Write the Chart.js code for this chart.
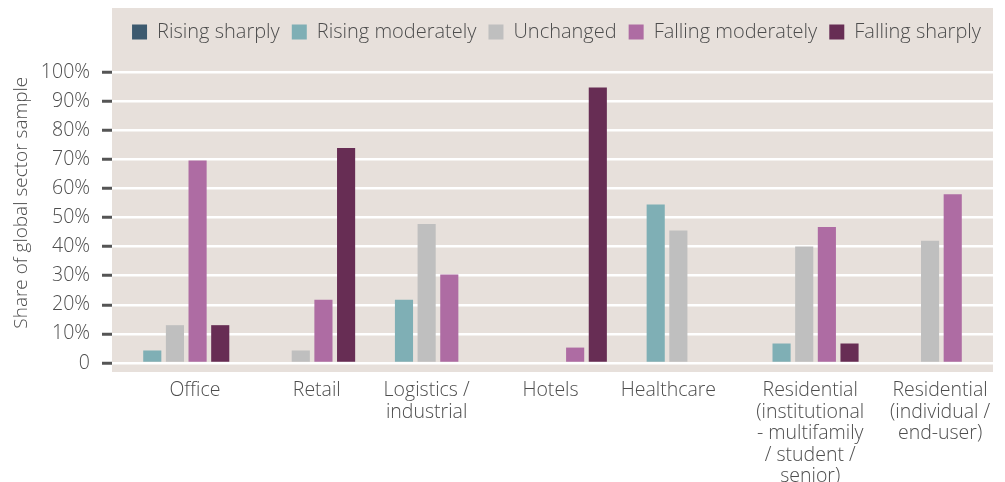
<!DOCTYPE html>
<html>
<head>
<meta charset="utf-8">
<script src="https://cdn.jsdelivr.net/npm/chart.js@4/dist/chart.umd.min.js"></script>
<style>
  html, body { margin: 0; padding: 0; background: #fff; }
  #wrap { width: 1005px; height: 482px; position: relative; }
</style>
</head>
<body>
<div id="wrap"><canvas id="sectorChart"></canvas></div>
<script>
'use strict';

// ---- data (share of global sector sample, %) ----
const categories = [
  'Office',
  'Retail',
  ['Logistics /', 'industrial'],
  'Hotels',
  'Healthcare',
  ['Residential', '(institutional', '- multifamily', '/ student /', 'senior)'],
  ['Residential', '(individual /', 'end-user)']
];
const seriesNames = ['Rising sharply', 'Rising moderately', 'Unchanged', 'Falling moderately', 'Falling sharply'];
const risingSharply     = [0, 0, 0, 0, 0, 0, 0];
const risingModerately  = [4.3, 0, 21.7, 0, 54.5, 6.7, 0];
const unchanged         = [13, 4.3, 47.8, 0, 45.5, 40, 42];
const fallingModerately = [69.6, 21.7, 30.4, 5.3, 0, 46.7, 58];
const fallingSharply    = [13, 73.9, 0, 94.7, 0, 6.7, 0];
const yTicks = [0, 10, 20, 30, 40, 50, 60, 70, 80, 90, 100];

const COLORS = ['#3d5a6f', '#7fafb5', '#bfbfbf', '#ae6ca3', '#672d54'];
const PANEL = '#e7e0db';
const TEXT = '#4d4d4d';
const FONT = "'Open Sans', 'Liberation Sans', sans-serif";
// the source sets its category labels slightly off the group centres (px)
const xLabelNudge = [20, 16, 0, -2, -10, 6, 10];

// beige panel behind legend + plot
const panelBg = {
  id: 'panelBg',
  beforeDraw(chart) {
    const { ctx, chartArea } = chart;
    ctx.save();
    ctx.fillStyle = PANEL;
    ctx.fillRect(chartArea.left, 8, chartArea.right - chartArea.left, chartArea.bottom + 9 - 8);
    ctx.restore();
  }
};

// fixed legend height so the 100% line lands where the reference has it
const legendHeight = {
  id: 'legendHeight',
  beforeInit(chart) {
    const fit = chart.legend.fit;
    chart.legend.fit = function () {
      fit.call(this);
      this.height = 62;
    };
  }
};

function nudgeLabels(scale) {
  const proto = Object.getPrototypeOf(scale);
  scale.getLabelItems = function (area) {
    const items = proto.getLabelItems.call(this, area);
    if (!items._nudged) {
      items.forEach((it, i) => { it.options.translation[0] += xLabelNudge[i] || 0; });
      items._nudged = true;
    }
    return items;
  };
}

const seriesData = [risingSharply, risingModerately, unchanged, fallingModerately, fallingSharply];

new Chart(document.getElementById('sectorChart'), {
  type: 'bar',
  data: {
    labels: categories,
    datasets: seriesNames.map((name, i) => ({
      label: name,
      data: seriesData[i],
      backgroundColor: COLORS[i],
      borderWidth: 0,
      categoryPercentage: 0.9,
      barPercentage: 0.8
    }))
  },
  options: {
    responsive: true,
    maintainAspectRatio: false,
    animation: false,
    layout: { padding: { top: 10, left: 10, right: 12, bottom: 0 } },
    plugins: {
      tooltip: { enabled: false },
      legend: {
        position: 'top',
        align: 'end',
        labels: {
          boxWidth: 15, boxHeight: 15, padding: 12,
          color: TEXT, font: { family: FONT, size: 20, weight: '300' }
        }
      }
    },
    scales: {
      x: {
        grid: { display: false, drawTicks: false },
        border: { display: false },
        ticks: {
          color: TEXT, padding: 17, maxRotation: 0, autoSkip: false,
          font: { family: FONT, size: 19.5, weight: '300', lineHeight: 1.1 }
        },
        afterFit(scale) { scale.height = 119; },
        afterUpdate: nudgeLabels
      },
      y: {
        min: 0, max: 100,
        afterBuildTicks(scale) { scale.ticks = yTicks.map(v => ({ value: v })); },
        grid: { color: '#ffffff', lineWidth: 2.5, tickColor: '#555555', tickLength: 10, tickWidth: 3 },
        border: { display: false },
        ticks: {
          color: TEXT, padding: 12,
          font: { family: FONT, size: 19.5, weight: '300' },
          callback: v => (v === 0 ? '0' : v + '%')
        },
        title: {
          // leading spaces lift the title to where the source has it
          display: true, text: '      Share of global sector sample', color: TEXT, padding: 0,
          font: { family: FONT, size: 19, weight: '300' }
        },
        afterFit(scale) { scale.width = 102; }
      }
    }
  },
  plugins: [panelBg, legendHeight]
});
</script>
</body>
</html>
